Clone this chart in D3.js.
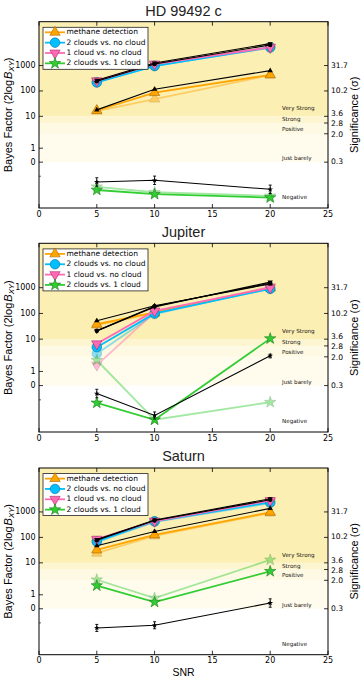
<!DOCTYPE html>
<html><head><meta charset="utf-8">
<script src="https://cdn.jsdelivr.net/npm/d3@7"></script>
<style>body{margin:0;background:#fff} svg{display:block}</style>
</head><body><svg id="c" width="364" height="681"></svg>
<script>
// ---------- data ----------
const snr = [5, 10, 20];
const xTicks = [0, 5, 10, 15, 20, 25];
const yTickValues = [0, 1, 10, 100, 1000];
const yTickLabels = ["0", "1", "10", "100", "1000"];
const sigmaTickValues = [0, 2, 5, 10, 100, 1000];
const sigmaTickLabels = ["0.3", "2.0", "2.8", "3.6", "10.2", "31.7"];
const bandNames = ["Very Strong", "Strong", "Positive", "Just barely", "Negative"];
const bandLower = [10, 5, 2, 0];
const seriesNames = ["methane detection", "2 clouds vs. no cloud", "1 cloud vs. no cloud", "2 clouds vs. 1 cloud"];
const panelTitles = ["HD 99492 c", "Jupiter", "Saturn"];

// HD 99492 c
const hdMethane = [17, 86, 430];
const hdMethaneAlt = [16, 48, 420];
const hdMethaneRef = [18, 116, 630];
const hd2v0 = [215, 950, 5300];
const hd2v0Alt = [225, 1000, 5000];
const hd2v0Ref = [240, 1150, 6500];
const hd1v0 = [250, 1150, 5300];
const hd1v0Alt = [240, 1050, 5100];
const hd1v0Ref = [265, 1250, 7300];
const hd2v1 = [-1.98, -2.28, -2.52];
const hd2v1Alt = [-1.75, -2.14, -2.4];
const hd2v1Ref = [-1.41, -1.29, -1.93];
const hd2v1RefErr = [0.3, 0.3, 0.3];

// Jupiter
const jupMethane = [38, 110, 1000];
const jupMethaneAlt = [35, 100, 950];
const jupMethaneRef = [52, 200, 1400];
const jup2v0 = [4.5, 100, 900];
const jup2v0Alt = [2.6, 95, 950];
const jup2v0Ref = [21, 190, 1500];
const jup1v0 = [6.2, 125, 1000];
const jup1v0Alt = [1.35, 110, 1100];
const jup1v0Ref = [21, 180, 1650];
const jup2v1 = [-1.22, -2.4, 10.5];
const jup2v1Alt = [1.7, -2.4, -1.17];
const jup2v1Ref = [-0.56, -2.1, 2.2];
const jup2v1RefErr = [0.3, 0.25, 0.3];

// Saturn
const satMethane = [32, 125, 970];
const satMethaneAlt = [24, 115, 900];
const satMethaneRef = [47, 170, 1380];
const sat2v0 = [70, 430, 2400];
const sat2v0Alt = [65, 410, 2200];
const sat2v0Ref = [78, 460, 3000];
const sat1v0 = [85, 440, 2800];
const sat1v0Alt = [75, 420, 2500];
const sat1v0Ref = [82, 480, 3300];
const sat2v1 = [1.55, 0.48, 4.3];
const sat2v1Alt = [2.1, 0.77, 13];
const sat2v1Ref = [-1.36, -1.17, 0.41];
const sat2v1RefErr = [0.25, 0.25, 0.3];

const panelData = [
  {fit: [hdMethane, hd2v0, hd1v0, hd2v1], alt: [hdMethaneAlt, hd2v0Alt, hd1v0Alt, hd2v1Alt], ref: [hdMethaneRef, hd2v0Ref, hd1v0Ref, hd2v1Ref], err: hd2v1RefErr},
  {fit: [jupMethane, jup2v0, jup1v0, jup2v1], alt: [jupMethaneAlt, jup2v0Alt, jup1v0Alt, jup2v1Alt], ref: [jupMethaneRef, jup2v0Ref, jup1v0Ref, jup2v1Ref], err: jup2v1RefErr},
  {fit: [satMethane, sat2v0, sat1v0, sat2v1], alt: [satMethaneAlt, sat2v0Alt, sat1v0Alt, sat2v1Alt], ref: [satMethaneRef, sat2v0Ref, sat1v0Ref, sat2v1Ref], err: sat2v1RefErr}
];

// ---------- style / layout ----------
const colors = ["#ffa500", "#00bfff", "#ff69b4", "#32cd32"];
const edges = ["#a86400", "#00709a", "#a8306e", "#1d7a1d"];
const bandFills = ["#fcefb4", "#fdf5d0", "#fef9e2", "#fffcee"];
const panels = [
  {top: 21.7, h: 186.3, titleY: 16},
  {top: 243.3, h: 188.7, titleY: 236.6},
  {top: 468, h: 186.7, titleY: 460.6}
];
const X0 = 39, X1 = 328;

const g = v => v <= 1 ? v : 1 + Math.log10(v);
const gAnch = [-3.26, 0, 1, g(2), g(5), 2, 3, 4, 5.73];
const fAnch = [1, 0.754, 0.6791, 0.6016, 0.5439, 0.508, 0.3717, 0.2353, 0];

const svg = d3.select("#c");
const x = d3.scaleLinear().domain([0, 25]).range([X0, X1]);

const symT = d3.symbol().type(d3.symbolTriangle);
const symC = d3.symbol().type(d3.symbolCircle);
const symS = d3.symbol().type(d3.symbolStar);
function markerPath(i, big) {
  if (i === 0) return symT.size(big ? 46 : 12)();
  if (i === 1) return symC.size(big ? 72 : 16)();
  if (i === 2) return symT.size(big ? 46 : 12)();
  return symS.size(big ? 40 : 10)();
}
const rot = i => i === 2 ? " rotate(180)" : "";

panels.forEach((p, pi) => {
  const yS = d3.scaleLinear().domain(gAnch).range(fAnch.map(f => p.top + f * p.h));
  const y = v => yS(g(v));
  const G = svg.append("g");

  // bands
  const uppers = [null, 10, 5, 2];
  bandLower.forEach((lo, i) => {
    const yTop = uppers[i] === null ? p.top : y(uppers[i]);
    G.append("rect").attr("x", X0).attr("width", X1 - X0)
      .attr("y", yTop).attr("height", y(lo) - yTop).attr("fill", bandFills[i]);
  });
  const bandLabelAt = [20, 7, 3, 0.25, -2.5];
  bandNames.forEach((n, i) => {
    G.append("text").attr("x", 282).attr("y", y(bandLabelAt[i]))
      .attr("dominant-baseline", "middle").attr("font-family", "DejaVu Sans")
      .attr("font-size", 5.6).attr("fill", "#111").text(n);
  });

  const d = panelData[pi];
  const line = d3.line().x((v, k) => x(snr[k])).y(v => y(v));

  // light (alternate) series
  d.alt.forEach((vals, i) => {
    const s = G.append("g").attr("opacity", 0.45);
    s.append("path").attr("d", line(vals)).attr("fill", "none").attr("stroke", colors[i]).attr("stroke-width", 1.8);
    vals.forEach((v, k) => s.append("path").attr("d", markerPath(i, true))
      .attr("transform", `translate(${x(snr[k])},${y(v)})${rot(i)}`)
      .attr("fill", colors[i]).attr("stroke", edges[i]).attr("stroke-width", 0.6));
  });
  // fitted series
  d.fit.forEach((vals, i) => {
    const s = G.append("g");
    s.append("path").attr("d", line(vals)).attr("fill", "none").attr("stroke", colors[i]).attr("stroke-width", 1.8);
    vals.forEach((v, k) => s.append("path").attr("d", markerPath(i, true))
      .attr("transform", `translate(${x(snr[k])},${y(v)})${rot(i)}`)
      .attr("fill", colors[i]).attr("stroke", edges[i]).attr("stroke-width", 0.6));
  });
  // reference (black) series
  d.ref.forEach((vals, i) => {
    const s = G.append("g");
    s.append("path").attr("d", line(vals)).attr("fill", "none").attr("stroke", "#000").attr("stroke-width", 1.1);
    if (i === 3) {
      vals.forEach((v, k) => {
        const e = d.err[k], xx = x(snr[k]);
        s.append("line").attr("x1", xx).attr("x2", xx).attr("y1", y(v - e)).attr("y2", y(v + e)).attr("stroke", "#000").attr("stroke-width", 0.9);
        [v - e, v + e].forEach(w => s.append("line").attr("x1", xx - 1.5).attr("x2", xx + 1.5).attr("y1", y(w)).attr("y2", y(w)).attr("stroke", "#000").attr("stroke-width", 0.9));
      });
    }
    vals.forEach((v, k) => s.append("path").attr("d", markerPath(i, false))
      .attr("transform", `translate(${x(snr[k])},${y(v)})${rot(i)}`).attr("fill", "#000"));
  });

  // frame
  G.append("rect").attr("x", X0).attr("y", p.top).attr("width", X1 - X0).attr("height", p.h)
    .attr("fill", "none").attr("stroke", "#000").attr("stroke-width", 1);
  const bot = p.top + p.h;
  // x ticks
  xTicks.forEach(t => {
    G.append("line").attr("x1", x(t)).attr("x2", x(t)).attr("y1", bot).attr("y2", bot - 4).attr("stroke", "#000").attr("stroke-width", 0.8);
    G.append("line").attr("x1", x(t)).attr("x2", x(t)).attr("y1", p.top).attr("y2", p.top + 4).attr("stroke", "#000").attr("stroke-width", 0.8);
    G.append("text").attr("x", x(t)).attr("y", bot + 8.6).attr("text-anchor", "middle")
      .attr("font-family", "DejaVu Sans").attr("font-size", 8).attr("fill", "#000").text(t);
  });
  // left ticks
  yTickValues.forEach((t, i) => {
    G.append("line").attr("x1", X0).attr("x2", X0 + 4).attr("y1", y(t)).attr("y2", y(t)).attr("stroke", "#000").attr("stroke-width", 0.8);
    G.append("text").attr("x", 35.5).attr("y", y(t)).attr("text-anchor", "end").attr("dominant-baseline", "middle")
      .attr("font-family", "DejaVu Sans").attr("font-size", 8).attr("fill", "#000").text(yTickLabels[i]);
  });
  G.append("line").attr("x1", X0).attr("x2", X0 + 2).attr("y1", y(-1)).attr("y2", y(-1)).attr("stroke", "#000").attr("stroke-width", 0.6);
  // right ticks (significance)
  sigmaTickValues.forEach((t, i) => {
    G.append("line").attr("x1", X1).attr("x2", X1 - 4).attr("y1", y(t)).attr("y2", y(t)).attr("stroke", "#000").attr("stroke-width", 0.8);
  });
  const sigY = [y(0), y(2) + 0.8, y(5) + 1.2, y(10) - 2.2, y(100), y(1000)];
  sigmaTickLabels.forEach((lab, i) => {
    G.append("text").attr("x", 331).attr("y", sigY[i]).attr("dominant-baseline", "middle")
      .attr("font-family", "DejaVu Sans").attr("font-size", 7.6).attr("fill", "#000").text(lab);
  });

  // titles and labels
  G.append("text").attr("x", (X0 + X1) / 2).attr("y", p.titleY).attr("text-anchor", "middle")
    .attr("font-family", "Liberation Sans").attr("font-size", 14.5).attr("fill", "#222").text(panelTitles[pi]);
  const cy = p.top + p.h / 2;
  const yl = G.append("text").attr("transform", `translate(11.5,${cy}) rotate(-90)`).attr("text-anchor", "middle")
    .attr("font-family", "Liberation Sans").attr("font-size", 11).attr("fill", "#000");
  yl.append("tspan").text("Bayes Factor (2log");
  yl.append("tspan").attr("font-style", "italic").attr("dx", 1).text("B");
  yl.append("tspan").attr("font-style", "italic").attr("font-size", 7.8).attr("dy", 2.5).text("XY");
  yl.append("tspan").attr("dy", -2.5).text(")");
  G.append("text").attr("transform", `translate(357.5,${cy}) rotate(-90)`).attr("text-anchor", "middle")
    .attr("font-family", "Liberation Sans").attr("font-size", 11).attr("fill", "#000").text("Significance (σ)");

  // legend
  const lx = 43, ly = p.top + 5.6;
  G.append("rect").attr("x", lx).attr("y", ly).attr("width", 105).attr("height", 42)
    .attr("fill", "#fff").attr("stroke", "#222").attr("stroke-width", 0.8);
  seriesNames.forEach((n, i) => {
    const ry = ly + 5 + i * 10.35;
    G.append("line").attr("x1", 45).attr("x2", 65).attr("y1", ry).attr("y2", ry).attr("stroke", colors[i]).attr("stroke-width", 1.8);
    G.append("path").attr("d", markerPath(i, true)).attr("transform", `translate(55,${ry})${rot(i)}`)
      .attr("fill", colors[i]).attr("stroke", edges[i]).attr("stroke-width", 0.6);
    G.append("text").attr("x", 66.5).attr("y", ry).attr("dominant-baseline", "middle")
      .attr("font-family", "DejaVu Sans").attr("font-size", 7.5).attr("fill", "#000").text(n);
  });
});

svg.append("text").attr("x", (X0 + X1) / 2).attr("y", 675.5).attr("text-anchor", "middle")
  .attr("font-family", "Liberation Sans").attr("font-size", 10.5).attr("fill", "#000").text("SNR");
</script></body></html>
